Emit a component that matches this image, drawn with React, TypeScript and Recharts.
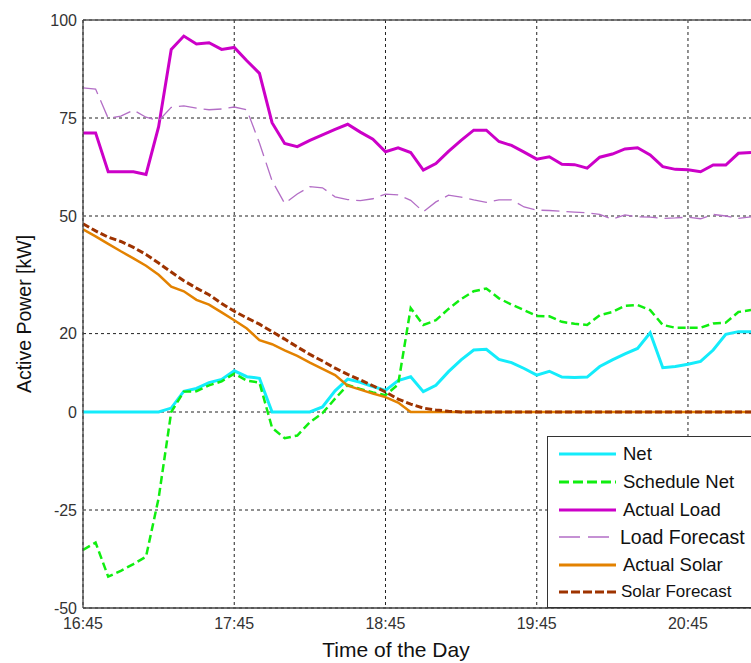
import React from "react";
import {
  LineChart,
  Line,
  XAxis,
  YAxis,
  CartesianGrid,
  Legend,
  ReferenceLine,
  Label,
} from "recharts";

const FONT = '"Liberation Sans", Arial, Helvetica, sans-serif';

// sample times, every 5 minutes
const times = [
  "16:45", "16:50", "16:55", "17:00", "17:05", "17:10", "17:15", "17:20", "17:25", "17:30",
  "17:35", "17:40", "17:45", "17:50", "17:55", "18:00", "18:05", "18:10", "18:15", "18:20",
  "18:25", "18:30", "18:35", "18:40", "18:45", "18:50", "18:55", "19:00", "19:05", "19:10",
  "19:15", "19:20", "19:25", "19:30", "19:35", "19:40", "19:45", "19:50", "19:55", "20:00",
  "20:05", "20:10", "20:15", "20:20", "20:25", "20:30", "20:35", "20:40", "20:45", "20:50",
  "20:55", "21:00", "21:05", "21:10",
];

const xTickLabels = ["16:45", "17:45", "18:45", "19:45", "20:45"];
const yTicks = [-50, -25, 0, 20, 50, 75, 100];

const netKw = [
  0, 0, 0, 0, 0, 0, 0, 1, 5.3, 6,
  7.5, 8.3, 10.5, 9, 8.6, 0, 0, 0, 0, 1.3,
  5.4, 8.4, 7.6, 6.5, 5.5, 8, 9, 5.2, 6.8, 10.3,
  13.3, 15.8, 16, 13.4, 12.6, 11.1, 9.4, 10.4, 8.9, 8.8,
  8.9, 11.6, 13.3, 14.8, 16.2, 20.2, 11.3, 11.6, 12.2, 12.9,
  15.8, 19.8, 20.5, 20.5,
];

const scheduleNetKw = [
  -35.2, -33.3, -42, -40.5, -38.8, -36.9, -22, 0, 5.2, 5.3,
  6.8, 7.8, 9.8, 8, 7.5, -4, -6.7, -6, -2.6, -0.3,
  3.4, 6.9, 5.9, 5, 4.3, 7, 26.5, 22.2, 23.4, 26.3,
  28.8, 30.8, 31.5, 29, 27.4, 26, 24.5, 24.4, 23, 22.5,
  22.2, 24.7, 25.5, 27.1, 27.3, 26, 22.2, 21.5, 21.5, 21.5,
  22.6, 22.8, 25.5, 26,
];

const actualLoadKw = [
  71.2, 71.2, 61.3, 61.3, 61.3, 60.6, 72.8, 92.5, 95.9, 93.9,
  94.2, 92.5, 93, 89.6, 86.4, 73.8, 68.5, 67.7, 69.3, 70.7,
  72.1, 73.4, 71.4, 69.6, 66.4, 67.4, 66.2, 61.7, 63.4, 66.5,
  69.3, 71.9, 71.9, 69, 68, 66.3, 64.5, 65.1, 63.2, 63.1,
  62.2, 65, 65.8, 67.1, 67.4, 65.6, 62.6, 61.9, 61.8, 61.3,
  63, 63, 66, 66.2,
];

const loadForecastKw = [
  82.7, 82.4, 74.9, 75.5, 77, 75.2, 74.3, 77.7, 78.1, 77.5,
  77.1, 77.3, 77.8, 77.1, 68.6, 59, 53.2, 55.6, 57.5, 57.2,
  54.9, 54.2, 53.9, 54.4, 55.6, 55.4, 54, 51.1, 53.6, 55.3,
  54.8, 54.1, 53.5, 54.1, 54.1, 52.3, 51.5, 51.4, 51.2, 51,
  50.8, 50.4, 49.2, 50.3, 49.8, 49.7, 49.4, 49.5, 49.7, 49.3,
  50.4, 50, 49.4, 49.8,
];

const actualSolarKw = [
  46.6, 44.8, 42.9, 41, 39.2, 37.3, 35, 32, 30.8, 28.6,
  27.4, 25.4, 23.4, 21.3, 18.3, 17.3, 15.7, 14.3, 12.6, 11,
  9.4, 6.7, 5.7, 4.7, 3.8, 2.4, 0, 0, 0, 0,
  0, 0, 0, 0, 0, 0, 0, 0, 0, 0,
  0, 0, 0, 0, 0, 0, 0, 0, 0, 0,
  0, 0, 0, 0,
];

const solarForecastKw = [
  48, 46.2, 44.6, 43.5, 42, 40.2, 38, 35.7, 33.5, 31.6,
  29.9, 27.7, 25.7, 24, 22.4, 20.5, 18.6, 16.6, 14.7, 13,
  11.2, 9.6, 8.2, 6.7, 5.1, 3.3, 2, 1, 0.5, 0.2,
  0, 0, 0, 0, 0, 0, 0, 0, 0, 0,
  0, 0, 0, 0, 0, 0, 0, 0, 0, 0,
  0, 0, 0, 0,
];

const BASE_MIN = 16 * 60 + 45;
const toMinutes = (hhmm: string) => {
  const [h, m] = hhmm.split(":").map(Number);
  return h * 60 + m - BASE_MIN;
};
const formatTime = (min: number) => {
  const total = BASE_MIN + min;
  const h = Math.floor(total / 60);
  const m = total % 60;
  return `${h}:${String(m).padStart(2, "0")}`;
};

const chartData = times.map((time, i) => ({
  t: toMinutes(time),
  net: netKw[i],
  schedule: scheduleNetKw[i],
  load: actualLoadKw[i],
  loadForecast: loadForecastKw[i],
  solar: actualSolarKw[i],
  solarForecast: solarForecastKw[i],
}));

const SERIES = [
  { key: "net", name: "Net", color: "#14ecfb", width: 3, dash: undefined, legendDash: undefined, fontSize: 18.5, textLeft: 75 },
  { key: "schedule", name: "Schedule Net", color: "#10ee10", width: 2.5, dash: "8 4", legendDash: "10 4", fontSize: 18.5, textLeft: 75 },
  { key: "load", name: "Actual Load", color: "#cc00c8", width: 3, dash: undefined, legendDash: undefined, fontSize: 18.5, textLeft: 75 },
  { key: "loadForecast", name: "Load Forecast", color: "#b36ec6", width: 1.3, dash: "18 7", legendDash: "21 8", fontSize: 19.5, textLeft: 72 },
  { key: "solar", name: "Actual Solar", color: "#e38200", width: 2.5, dash: undefined, legendDash: undefined, fontSize: 18.5, textLeft: 75 },
  { key: "solarForecast", name: "Solar Forecast", color: "#9e3300", width: 3, dash: "7 3", legendDash: "9 3", fontSize: 17, textLeft: 73 },
];

const LEGEND_ROWS = [17, 45, 72.5, 100, 127.5, 155];

function LegendBox() {
  return (
    <div
      style={{
        position: "relative",
        width: 210,
        height: 172,
        boxSizing: "border-box",
        background: "#fff",
        borderLeft: "1px solid #333",
        borderTop: "1px solid #333",
        borderBottom: "1px solid #333",
        fontFamily: FONT,
      }}
    >
      {SERIES.map((s, i) => (
        <div key={s.key} style={{ position: "absolute", left: 0, top: LEGEND_ROWS[i] - 12, width: 210, height: 24 }}>
          <svg width={57} height={24} style={{ position: "absolute", left: 11, top: 0 }}>
            <line x1={0} x2={57} y1={12} y2={12} stroke={s.color} strokeWidth={s.key === "loadForecast" ? 1.5 : 3} strokeDasharray={s.legendDash} />
          </svg>
          <span
            style={{
              position: "absolute",
              left: s.textLeft,
              top: 0,
              lineHeight: "24px",
              fontSize: s.fontSize,
              color: "#111",
              whiteSpace: "nowrap",
            }}
          >
            {s.name}
          </span>
        </div>
      ))}
    </div>
  );
}

export default function App() {
  return (
    <div style={{ position: "absolute", left: 0, top: 0, width: 751, height: 663, overflow: "hidden", background: "#fff", fontFamily: FONT }}>
      <LineChart width={751} height={663} data={chartData} margin={{ top: 20, right: 0, left: 0, bottom: 0 }}>
        <CartesianGrid stroke="#222" strokeDasharray="3 3" syncWithTicks />
        <XAxis
          dataKey="t"
          type="number"
          domain={[0, 265]}
          ticks={xTickLabels.map(toMinutes)}
          tickFormatter={formatTime}
          allowDataOverflow
          height={55}
          tickSize={0}
          tickMargin={10}
          tickLine={false}
          axisLine={{ stroke: "#444", strokeWidth: 1.3 }}
          tick={{ fontSize: 16, fill: "#333" }}
        >
          <Label value="Time of the Day" position="insideBottom" offset={6} dx={-21} style={{ fontSize: 21, fill: "#111" }} />
        </XAxis>
        <YAxis
          type="number"
          domain={[-50, 100]}
          ticks={yTicks}
          interval={0}
          allowDataOverflow
          width={83}
          tickSize={0}
          tickMargin={6}
          tickLine={false}
          axisLine={{ stroke: "#444", strokeWidth: 1.3 }}
          tick={{ fontSize: 16, fill: "#333" }}
        >
          <Label value="Active Power [kW]" angle={-90} position="insideLeft" offset={24} style={{ textAnchor: "middle", fontSize: 19.5, fill: "#111" }} />
        </YAxis>
        <ReferenceLine y={100} stroke="#555" strokeWidth={1.5} />
        {SERIES.map((s) => (
          <Line
            key={s.key}
            type="linear"
            dataKey={s.key}
            name={s.name}
            stroke={s.color}
            strokeWidth={s.width}
            strokeDasharray={s.dash}
            dot={false}
            activeDot={false}
            isAnimationActive={false}
          />
        ))}
        <Legend
          layout="horizontal"
          align="center"
          verticalAlign="middle"
          content={() => <LegendBox />}
          wrapperStyle={{ left: 547, top: 436, width: 210, height: 172 }}
        />
      </LineChart>
    </div>
  );
}
